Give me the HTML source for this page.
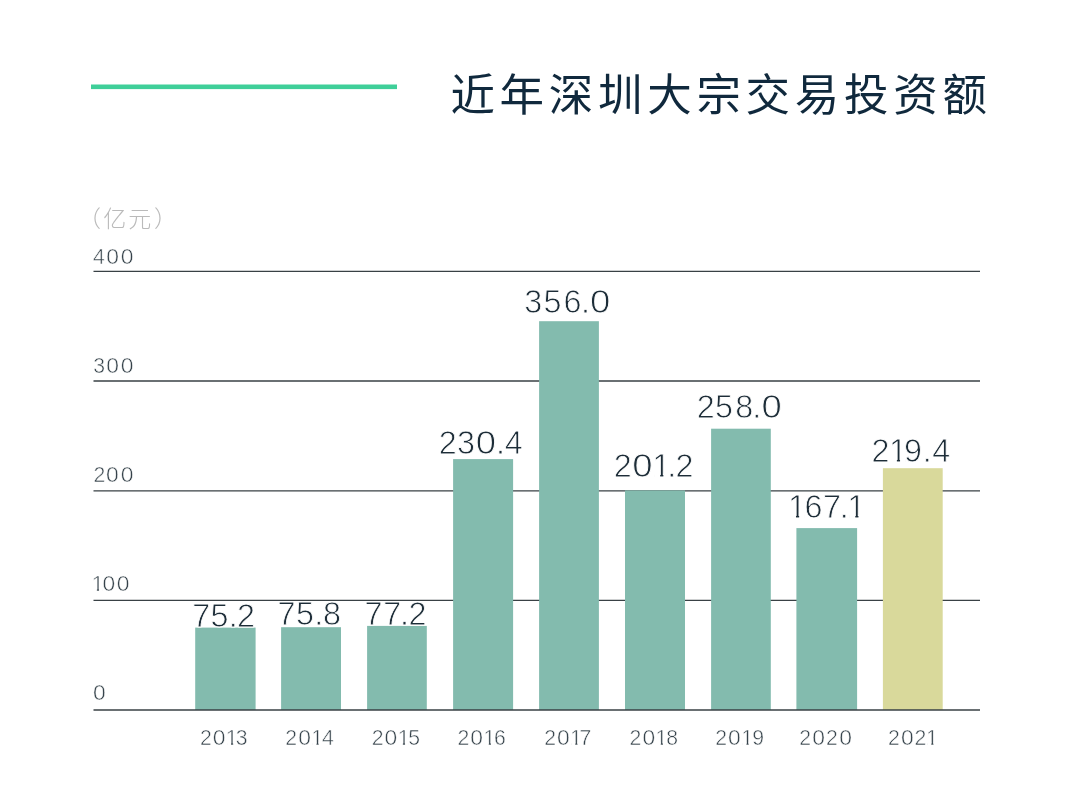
<!DOCTYPE html>
<html lang="zh-CN">
<head>
<meta charset="utf-8">
<title>近年深圳大宗交易投资额</title>
<style>
  html,body{margin:0;padding:0;background:#ffffff;}
  body{width:1080px;height:795px;overflow:hidden;position:relative;}
  svg{will-change:transform;display:block;position:absolute;left:0;top:0;}
  text{white-space:pre;}
  .title{font-family:"Liberation Sans","Noto Sans CJK SC",sans-serif;font-size:44.5px;fill:#10293d;font-weight:400;}
  .unit{font-family:"Liberation Sans","Noto Sans CJK SC",sans-serif;font-size:23px;fill:#bababa;font-weight:300;}
  .ax{font-family:"Liberation Sans",sans-serif;font-size:21.2px;fill:#36434b;stroke:#ffffff;stroke-width:0.5px;paint-order:fill;}
  .val{font-family:"Liberation Sans",sans-serif;font-size:32.3px;fill:#1d2d38;stroke:#ffffff;stroke-width:0.8px;paint-order:fill;}
  .grid{stroke:#394145;stroke-width:1.35;}
  .bar{fill:#83bbae;}
  .bar2{fill:#d9d99b;}
</style>
</head>
<body>
<svg width="1080" height="795" viewBox="0 0 1080 795">
  <!-- header rule + title -->
  <rect x="91" y="84.5" width="306" height="4.6" fill="#3fcf99"/>
  <text class="title" x="450.4" y="111.1" letter-spacing="4.7">近年深圳大宗交易投资额</text>

  <!-- unit -->
  <text class="unit" x="78.0 103.2 128.3 153.9" y="226.7">（亿元）</text>

  <!-- grid lines -->
  <line class="grid" x1="93.5" x2="980" y1="271.3" y2="271.3"/>
  <line class="grid" x1="93.5" x2="980" y1="381" y2="381"/>
  <line class="grid" x1="93.5" x2="980" y1="490.8" y2="490.8"/>
  <line class="grid" x1="93.5" x2="980" y1="600.4" y2="600.4"/>

  <!-- y axis labels -->
  <text class="ax" y="263.5"><tspan x="92.92">4</tspan><tspan x="106.38" textLength="12.73" lengthAdjust="spacingAndGlyphs">0</tspan><tspan x="120.83" textLength="12.73" lengthAdjust="spacingAndGlyphs">0</tspan></text>
  <text class="ax" y="372.7"><tspan x="93.17">3</tspan><tspan x="106.38" textLength="12.73" lengthAdjust="spacingAndGlyphs">0</tspan><tspan x="120.83" textLength="12.73" lengthAdjust="spacingAndGlyphs">0</tspan></text>
  <text class="ax" y="481.8"><tspan x="93.40">2</tspan><tspan x="106.13" textLength="12.73" lengthAdjust="spacingAndGlyphs">0</tspan><tspan x="120.83" textLength="12.73" lengthAdjust="spacingAndGlyphs">0</tspan></text>
  <text class="ax" y="590.8"><tspan x="91.69">1</tspan><tspan x="102.53" textLength="12.73" lengthAdjust="spacingAndGlyphs">0</tspan><tspan x="116.81" textLength="12.73" lengthAdjust="spacingAndGlyphs">0</tspan></text>
  <text class="ax" y="699.6"><tspan x="92.98" textLength="12.73" lengthAdjust="spacingAndGlyphs">0</tspan></text>
  <!-- bars -->
  <rect class="bar" x="195.2" y="627.6" width="60.4" height="82.4"/>
  <rect class="bar" x="281.1" y="627.2" width="59.9" height="82.8"/>
  <rect class="bar" x="367.1" y="625.9" width="59.7" height="84.1"/>
  <rect class="bar" x="453.1" y="459.1" width="60.0" height="250.9"/>
  <rect class="bar" x="539.1" y="321.2" width="59.8" height="388.8"/>
  <rect class="bar" x="625.0" y="490.4" width="60.0" height="219.6"/>
  <rect class="bar" x="711.1" y="428.7" width="59.7" height="281.3"/>
  <rect class="bar" x="796.4" y="528.1" width="60.7" height="181.9"/>
  <rect class="bar2" x="882.9" y="468.2" width="59.8" height="241.8"/>
  <!-- baseline -->
  <line class="grid" x1="93.5" x2="980" y1="710" y2="710"/>
  <!-- value labels -->
  <text class="val" y="627.0"><tspan x="192.25">7</tspan><tspan x="210.40">5</tspan><tspan x="228.76">.</tspan><tspan x="237.07">2</tspan></text>
  <text class="val" y="625.1"><tspan x="277.55">7</tspan><tspan x="296.00">5</tspan><tspan x="314.14">.</tspan><tspan x="323.07">8</tspan></text>
  <text class="val" y="625.1"><tspan x="364.60">7</tspan><tspan x="383.23">7</tspan><tspan x="400.01">.</tspan><tspan x="408.54">2</tspan></text>
  <text class="val" y="454.2"><tspan x="438.72">2</tspan><tspan x="456.94">3</tspan><tspan x="475.70" textLength="20.30" lengthAdjust="spacingAndGlyphs">0</tspan><tspan x="495.96">.</tspan><tspan x="504.67">4</tspan></text>
  <text class="val" y="312.7"><tspan x="524.36">3</tspan><tspan x="543.47">5</tspan><tspan x="563.53">6</tspan><tspan x="580.96">.</tspan><tspan x="590.00" textLength="20.30" lengthAdjust="spacingAndGlyphs">0</tspan></text>
  <text class="val" y="476.7"><tspan x="613.82">2</tspan><tspan x="632.35" textLength="20.30" lengthAdjust="spacingAndGlyphs">0</tspan><tspan x="652.22">1</tspan><tspan x="667.31">.</tspan><tspan x="675.39">2</tspan></text>
  <text class="val" y="417.7"><tspan x="696.69">2</tspan><tspan x="715.05">5</tspan><tspan x="735.22">8</tspan><tspan x="752.36">.</tspan><tspan x="761.58" textLength="20.30" lengthAdjust="spacingAndGlyphs">0</tspan></text>
  <text class="val" y="518.4"><tspan x="788.02">1</tspan><tspan x="804.51">6</tspan><tspan x="822.88">7</tspan><tspan x="839.86">.</tspan><tspan x="847.32">1</tspan></text>
  <text class="val" y="462.3"><tspan x="871.52">2</tspan><tspan x="888.92">1</tspan><tspan x="904.03">9</tspan><tspan x="922.81">.</tspan><tspan x="932.25">4</tspan></text>
  <!-- x axis labels -->
  <text class="ax" y="744.8"><tspan x="199.95">2</tspan><tspan x="212.78" textLength="12.73" lengthAdjust="spacingAndGlyphs">0</tspan><tspan x="225.84">1</tspan><tspan x="235.82">3</tspan></text>
  <text class="ax" y="744.8"><tspan x="285.30">2</tspan><tspan x="298.23" textLength="12.73" lengthAdjust="spacingAndGlyphs">0</tspan><tspan x="311.29">1</tspan><tspan x="322.12">4</tspan></text>
  <text class="ax" y="744.8"><tspan x="371.65">2</tspan><tspan x="384.53" textLength="12.73" lengthAdjust="spacingAndGlyphs">0</tspan><tspan x="397.69">1</tspan><tspan x="408.18">5</tspan></text>
  <text class="ax" y="744.8"><tspan x="457.45">2</tspan><tspan x="470.23" textLength="12.73" lengthAdjust="spacingAndGlyphs">0</tspan><tspan x="483.59">1</tspan><tspan x="494.08">6</tspan></text>
  <text class="ax" y="744.8"><tspan x="544.20">2</tspan><tspan x="556.93" textLength="12.73" lengthAdjust="spacingAndGlyphs">0</tspan><tspan x="570.09">1</tspan><tspan x="579.59">7</tspan></text>
  <text class="ax" y="744.8"><tspan x="629.50">2</tspan><tspan x="642.53" textLength="12.73" lengthAdjust="spacingAndGlyphs">0</tspan><tspan x="655.59">1</tspan><tspan x="666.30">8</tspan></text>
  <text class="ax" y="744.8"><tspan x="715.30">2</tspan><tspan x="727.98" textLength="12.73" lengthAdjust="spacingAndGlyphs">0</tspan><tspan x="741.29">1</tspan><tspan x="752.16">9</tspan></text>
  <text class="ax" y="744.8"><tspan x="799.28">2</tspan><tspan x="812.28" textLength="12.73" lengthAdjust="spacingAndGlyphs">0</tspan><tspan x="825.95">2</tspan><tspan x="839.23" textLength="12.73" lengthAdjust="spacingAndGlyphs">0</tspan></text>
  <text class="ax" y="744.8"><tspan x="887.90">2</tspan><tspan x="901.08" textLength="12.73" lengthAdjust="spacingAndGlyphs">0</tspan><tspan x="914.60">2</tspan><tspan x="926.09">1</tspan></text>
  <!-- white covers trimming the foot serif of each 1 so it matches the plain stroke numeral -->
  <rect fill="#ffffff" x="92.96" y="588.51" width="3.90" height="2.89"/>
  <rect fill="#ffffff" x="99.05" y="588.51" width="3.84" height="2.89"/>
  <rect fill="#ffffff" x="654.16" y="473.58" width="6.02" height="3.72"/>
  <rect fill="#ffffff" x="663.35" y="473.58" width="5.69" height="3.72"/>
  <rect fill="#ffffff" x="789.96" y="515.28" width="6.02" height="3.72"/>
  <rect fill="#ffffff" x="799.15" y="515.28" width="5.69" height="3.72"/>
  <rect fill="#ffffff" x="849.26" y="515.28" width="6.02" height="3.72"/>
  <rect fill="#ffffff" x="858.45" y="515.28" width="5.69" height="3.72"/>
  <rect fill="#ffffff" x="890.86" y="459.18" width="6.02" height="3.72"/>
  <rect fill="#ffffff" x="900.05" y="459.18" width="5.69" height="3.72"/>
  <rect fill="#ffffff" x="227.11" y="742.51" width="3.90" height="2.89"/>
  <rect fill="#ffffff" x="233.20" y="742.51" width="3.84" height="2.89"/>
  <rect fill="#ffffff" x="312.56" y="742.51" width="3.90" height="2.89"/>
  <rect fill="#ffffff" x="318.65" y="742.51" width="3.84" height="2.89"/>
  <rect fill="#ffffff" x="398.96" y="742.51" width="3.90" height="2.89"/>
  <rect fill="#ffffff" x="405.05" y="742.51" width="3.84" height="2.89"/>
  <rect fill="#ffffff" x="484.86" y="742.51" width="3.90" height="2.89"/>
  <rect fill="#ffffff" x="490.95" y="742.51" width="3.84" height="2.89"/>
  <rect fill="#ffffff" x="571.36" y="742.51" width="3.90" height="2.89"/>
  <rect fill="#ffffff" x="577.45" y="742.51" width="3.84" height="2.89"/>
  <rect fill="#ffffff" x="656.86" y="742.51" width="3.90" height="2.89"/>
  <rect fill="#ffffff" x="662.95" y="742.51" width="3.84" height="2.89"/>
  <rect fill="#ffffff" x="742.56" y="742.51" width="3.90" height="2.89"/>
  <rect fill="#ffffff" x="748.65" y="742.51" width="3.84" height="2.89"/>
  <rect fill="#ffffff" x="927.36" y="742.51" width="3.90" height="2.89"/>
  <rect fill="#ffffff" x="933.45" y="742.51" width="3.84" height="2.89"/>
</svg>
</body>
</html>
